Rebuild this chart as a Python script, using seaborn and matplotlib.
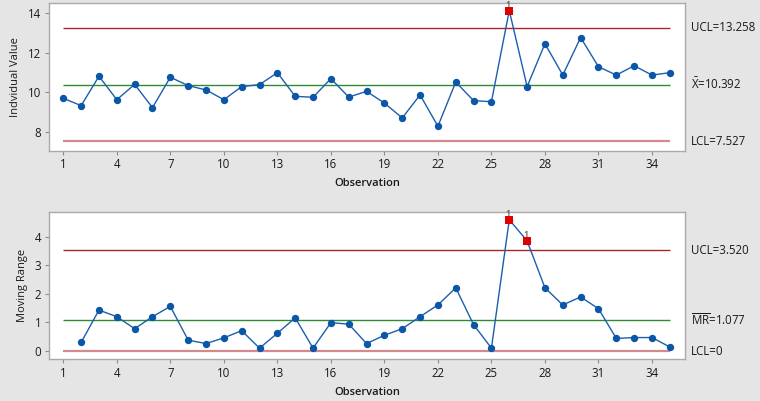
import matplotlib
matplotlib.use("Agg")
import matplotlib.pyplot as plt
import seaborn as sns
import pandas as pd

# Individual observations (I chart)
observations = list(range(1, 36))
individual_values = [
    9.70, 9.33, 10.81, 9.63, 10.40, 9.23, 10.76, 10.34, 10.12, 9.63,
    10.29, 10.39, 10.99, 9.80, 9.75, 10.69, 9.76, 10.05, 9.46, 8.71,
    9.87, 8.29, 10.52, 9.58, 9.53, 14.12, 10.29, 12.45, 10.87, 12.76,
    11.29, 10.87, 11.34, 10.87, 10.99,
]

# Moving ranges (MR chart), starting at observation 2
mr_observations = list(range(2, 36))
moving_ranges = [
    0.30, 1.43, 1.20, 0.78, 1.20, 1.56, 0.38, 0.26, 0.46, 0.71,
    0.10, 0.62, 1.16, 0.10, 0.99, 0.94, 0.26, 0.55, 0.78, 1.20,
    1.61, 2.21, 0.92, 0.10, 4.59, 3.85, 2.21, 1.61, 1.89, 1.48,
    0.44, 0.47, 0.47, 0.14,
]

# Control limits
i_ucl, i_center, i_lcl = 13.258, 10.392, 7.527
mr_ucl, mr_center, mr_lcl = 3.520, 1.077, 0.0

x_ticks = list(range(1, 36, 3))
i_yticks = [8, 10, 12, 14]
mr_yticks = [0, 1, 2, 3, 4]

i_limit_labels = ["UCL=13.258", r"$\bar{\mathrm{X}}$=10.392", "LCL=7.527"]
mr_limit_labels = ["UCL=3.520", r"$\overline{\mathrm{MR}}$=1.077", "LCL=0"]

sns.set_theme(style="white")
plt.rcParams["font.family"] = ["Open Sans", "DejaVu Sans"]
plt.rcParams["mathtext.fontset"] = "custom"
plt.rcParams["mathtext.rm"] = "Open Sans"
plt.rcParams["mathtext.it"] = "Open Sans:italic"
plt.rcParams["mathtext.bf"] = "Open Sans:bold"

BLUE = "#1a5fae"
MARKER_BLUE = "#0a56a8"
RED_POINT = "#e00000"
UCL_COLOR = "#a8262b"
CENTER_COLOR = "#2e8b32"
LCL_COLOR = "#d48a8c"
FRAME = "#a9a9a9"
TEXT = "#1a1a1a"

fig = plt.figure(figsize=(7.6, 4.01), dpi=100, facecolor="#e5e5e5")
ax_i = fig.add_axes([0.0645, 0.6242, 0.8368, 0.3683])
ax_mr = fig.add_axes([0.0645, 0.104, 0.8368, 0.3666])


def control_chart(ax, xs, ys, ucl, center, lcl, labels, ylim, yticks, ylabel):
    df = pd.DataFrame({"obs": xs, "value": ys})

    # control limits span the observations
    ax.hlines(ucl, 1, 35, color=UCL_COLOR, linewidth=1.0, zorder=1)
    ax.hlines(center, 1, 35, color=CENTER_COLOR, linewidth=1.0, zorder=1)
    ax.hlines(lcl, 1, 35, color=LCL_COLOR, linewidth=1.6, zorder=1)

    sns.lineplot(data=df, x="obs", y="value", ax=ax, color=BLUE,
                 linewidth=1.0, marker="o", markersize=5.3,
                 markerfacecolor=MARKER_BLUE, markeredgecolor=MARKER_BLUE,
                 markeredgewidth=0, zorder=3)

    # out-of-control points (test 1)
    out = df[(df["value"] > ucl) | (df["value"] < lcl)]
    sns.scatterplot(data=out, x="obs", y="value", ax=ax, marker="s",
                    s=30, color=RED_POINT, edgecolor=RED_POINT,
                    linewidth=0, zorder=4)
    for _, row in out.iterrows():
        ax.annotate("1", xy=(row["obs"], row["value"]),
                    xytext=(-1, 2.7), textcoords="offset points",
                    ha="center", va="baseline", fontsize=6.5,
                    fontweight="semibold", color="#555555",
                    annotation_clip=False, zorder=5)

    for val, lab in zip([ucl, center, lcl], labels):
        ax.annotate(lab, xy=(1.009, val), xycoords=("axes fraction", "data"),
                    ha="left", va="center", fontsize=8.3, color=TEXT,
                    annotation_clip=False)

    ax.set_xlim(0.2, 35.85)
    ax.set_ylim(*ylim)
    ax.set_xticks(x_ticks)
    ax.set_yticks(yticks)
    ax.set_facecolor("white")
    for sp in ax.spines.values():
        sp.set_visible(True)
        sp.set_color(FRAME)
        sp.set_linewidth(1.0)
    ax.tick_params(axis="both", direction="out", length=3, width=0.8,
                   color="#8c8c8c", labelsize=8.3, labelcolor=TEXT, pad=2.5,
                   bottom=True, left=True)
    ax.set_xlabel("Observation", fontsize=8, fontweight="semibold",
                  color=TEXT, labelpad=5)
    ax.set_ylabel(ylabel, fontsize=8, color=TEXT, labelpad=5)
    ax.grid(False)


control_chart(ax_i, observations, individual_values, i_ucl, i_center, i_lcl,
              i_limit_labels, (7.06, 14.5), i_yticks, "Indvidual Value")
control_chart(ax_mr, mr_observations, moving_ranges, mr_ucl, mr_center, mr_lcl,
              mr_limit_labels, (-0.29, 4.85), mr_yticks, "Moving Range")

fig.savefig("out.png", dpi=100, facecolor=fig.get_facecolor())
